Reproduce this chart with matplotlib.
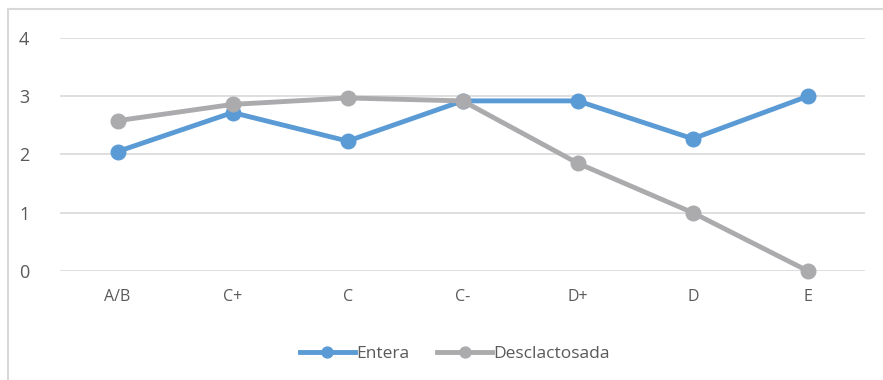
import matplotlib.pyplot as plt
from matplotlib.lines import Line2D

plt.rcParams['font.family'] = ['Open Sans', 'DejaVu Sans']

categories = ['A/B', 'C+', 'C', 'C-', 'D+', 'D', 'E']
entera = [2.05, 2.72, 2.23, 2.92, 2.92, 2.27, 3.0]
desclactosada = [2.58, 2.86, 2.97, 2.92, 1.85, 1.0, 0.0]

blue = '#5B9BD5'
grey = '#ABABAE'
text_col = '#595959'

fig = plt.figure(figsize=(8.83, 3.8), dpi=100)
ax = fig.add_axes([0.068, 0.287, 0.912, 0.613])

x = range(len(categories))
ax.plot(x, entera, color=blue, lw=3.5, marker='o', ms=10.5, label='Entera',
        zorder=3, clip_on=False)
ax.plot(x, desclactosada, color=grey, lw=3.5, marker='o', ms=10.5, label='Desclactosada',
        zorder=3, clip_on=False)

ax.set_xlim(-0.5, len(categories) - 0.5)
ax.set_ylim(0, 4)
ax.set_yticks([0, 1, 2, 3, 4])
ax.set_xticks(list(x))
ax.set_xticklabels(categories)
ax.grid(axis='y', color='#D9D9D9', lw=1.2)
ax.set_axisbelow(True)
for s in ax.spines.values():
    s.set_visible(False)
ax.tick_params(axis='both', length=0, colors=text_col)
ax.tick_params(axis='x', labelsize=11.5, pad=13)
ax.tick_params(axis='y', labelsize=13, pad=22)

leg = ax.legend(loc='upper center', bbox_to_anchor=(0.49, -0.255), ncol=2, frameon=False,
                fontsize=12.5, labelcolor=text_col, handlelength=3.2, handletextpad=0.05,
                columnspacing=1.6, markerscale=0.75)

# chart area border (left and top visible)
fig.add_artist(Line2D([8/883, 8/883], [0, 1 - 9/380], color='#D9D9D9', lw=1.5))
fig.add_artist(Line2D([8/883, 1], [1 - 9/380, 1 - 9/380], color='#D9D9D9', lw=1.5))

plt.savefig('out.png', dpi=100)
